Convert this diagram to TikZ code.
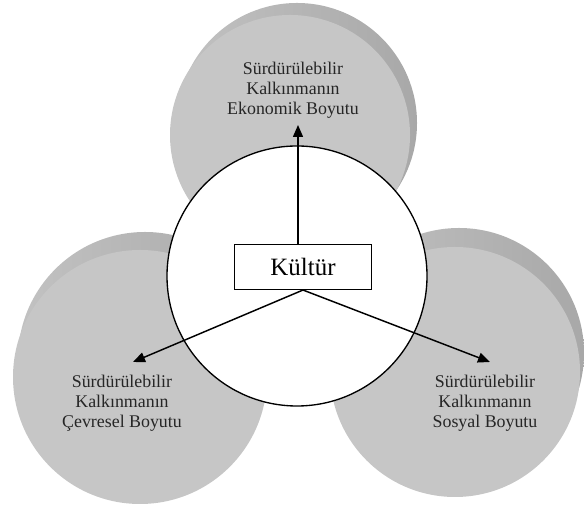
\documentclass[tikz,border=0pt]{standalone}
\usepackage{fontspec}
\setmainfont{Liberation Serif}
\usepackage{tikz}
\usetikzlibrary{arrows.meta,positioning}
\definecolor{discgray}{RGB}{198,198,198}
\definecolor{rimdark}{RGB}{168,168,168}
\definecolor{rimlight}{RGB}{194,194,194}
\tikzstyle{arrow} = [line width=1.1pt,-{Triangle[length=9pt,width=7.5pt]}]
\tikzstyle{rim} = [circle, inner sep=0pt, outer sep=0pt, left color=rimlight, right color=rimdark]
\tikzstyle{disc} = [circle, inner sep=0pt, outer sep=0pt, fill=discgray]
\tikzstyle{dimtext} = [align=center, text=black!85, font=\fontsize{13.4}{15}\selectfont]

\begin{document}
\begin{tikzpicture}[x=0.75pt, y=0.75pt]
    \useasboundingbox (0,0) rectangle (584,505);

    % Top disc
    \node[rim, minimum size=180pt] (ekorim) at (297,382) {};
    \node[disc, minimum size=180pt] (eko) at (290,370) {};

    % Left disc
    \node[rim, minimum size=190.5pt] (cevrerim) at (145,146) {};
    \node[disc, minimum size=190.5pt] (cevre) at (140,128) {};

    % Right disc
    \node[rim, minimum size=187.5pt] (sosyalrim) at (459,152) {};
    \node[disc, minimum size=187.5pt] (sosyal) at (455,133) {};

    % Central circle
    \node[circle, draw, fill=white, line width=1pt, minimum size=195pt, inner sep=0pt] (merkez) at (297,229) {};
    \node[draw, line width=0.8pt, minimum width=102.75pt, minimum height=33.75pt, font=\fontsize{18.7}{20}\selectfont] (kultur) at (303,238) {Kültür};

    % Labels
    \node[dimtext] (ekotext) at (293,415) {Sürdürülebilir\\Kalkınmanın\\Ekonomik Boyutu};
    \node[dimtext] (cevretext) at (122,102) {Sürdürülebilir\\Kalkınmanın\\Çevresel Boyutu};
    \node[dimtext] (sosyaltext) at (485,102) {Sürdürülebilir\\Kalkınmanın\\Sosyal Boyutu};

    % Connections
    \coordinate (ekotip) at (298,380);
    \coordinate (cevretip) at (133,143);
    \coordinate (sosyaltip) at (490,143);
    \draw[arrow] (ekotip |- kultur.north) -- (ekotip);
    \draw[arrow] (kultur.south) -- (cevretip);
    \draw[arrow] (kultur.south) -- (sosyaltip);
\end{tikzpicture}
\end{document}
